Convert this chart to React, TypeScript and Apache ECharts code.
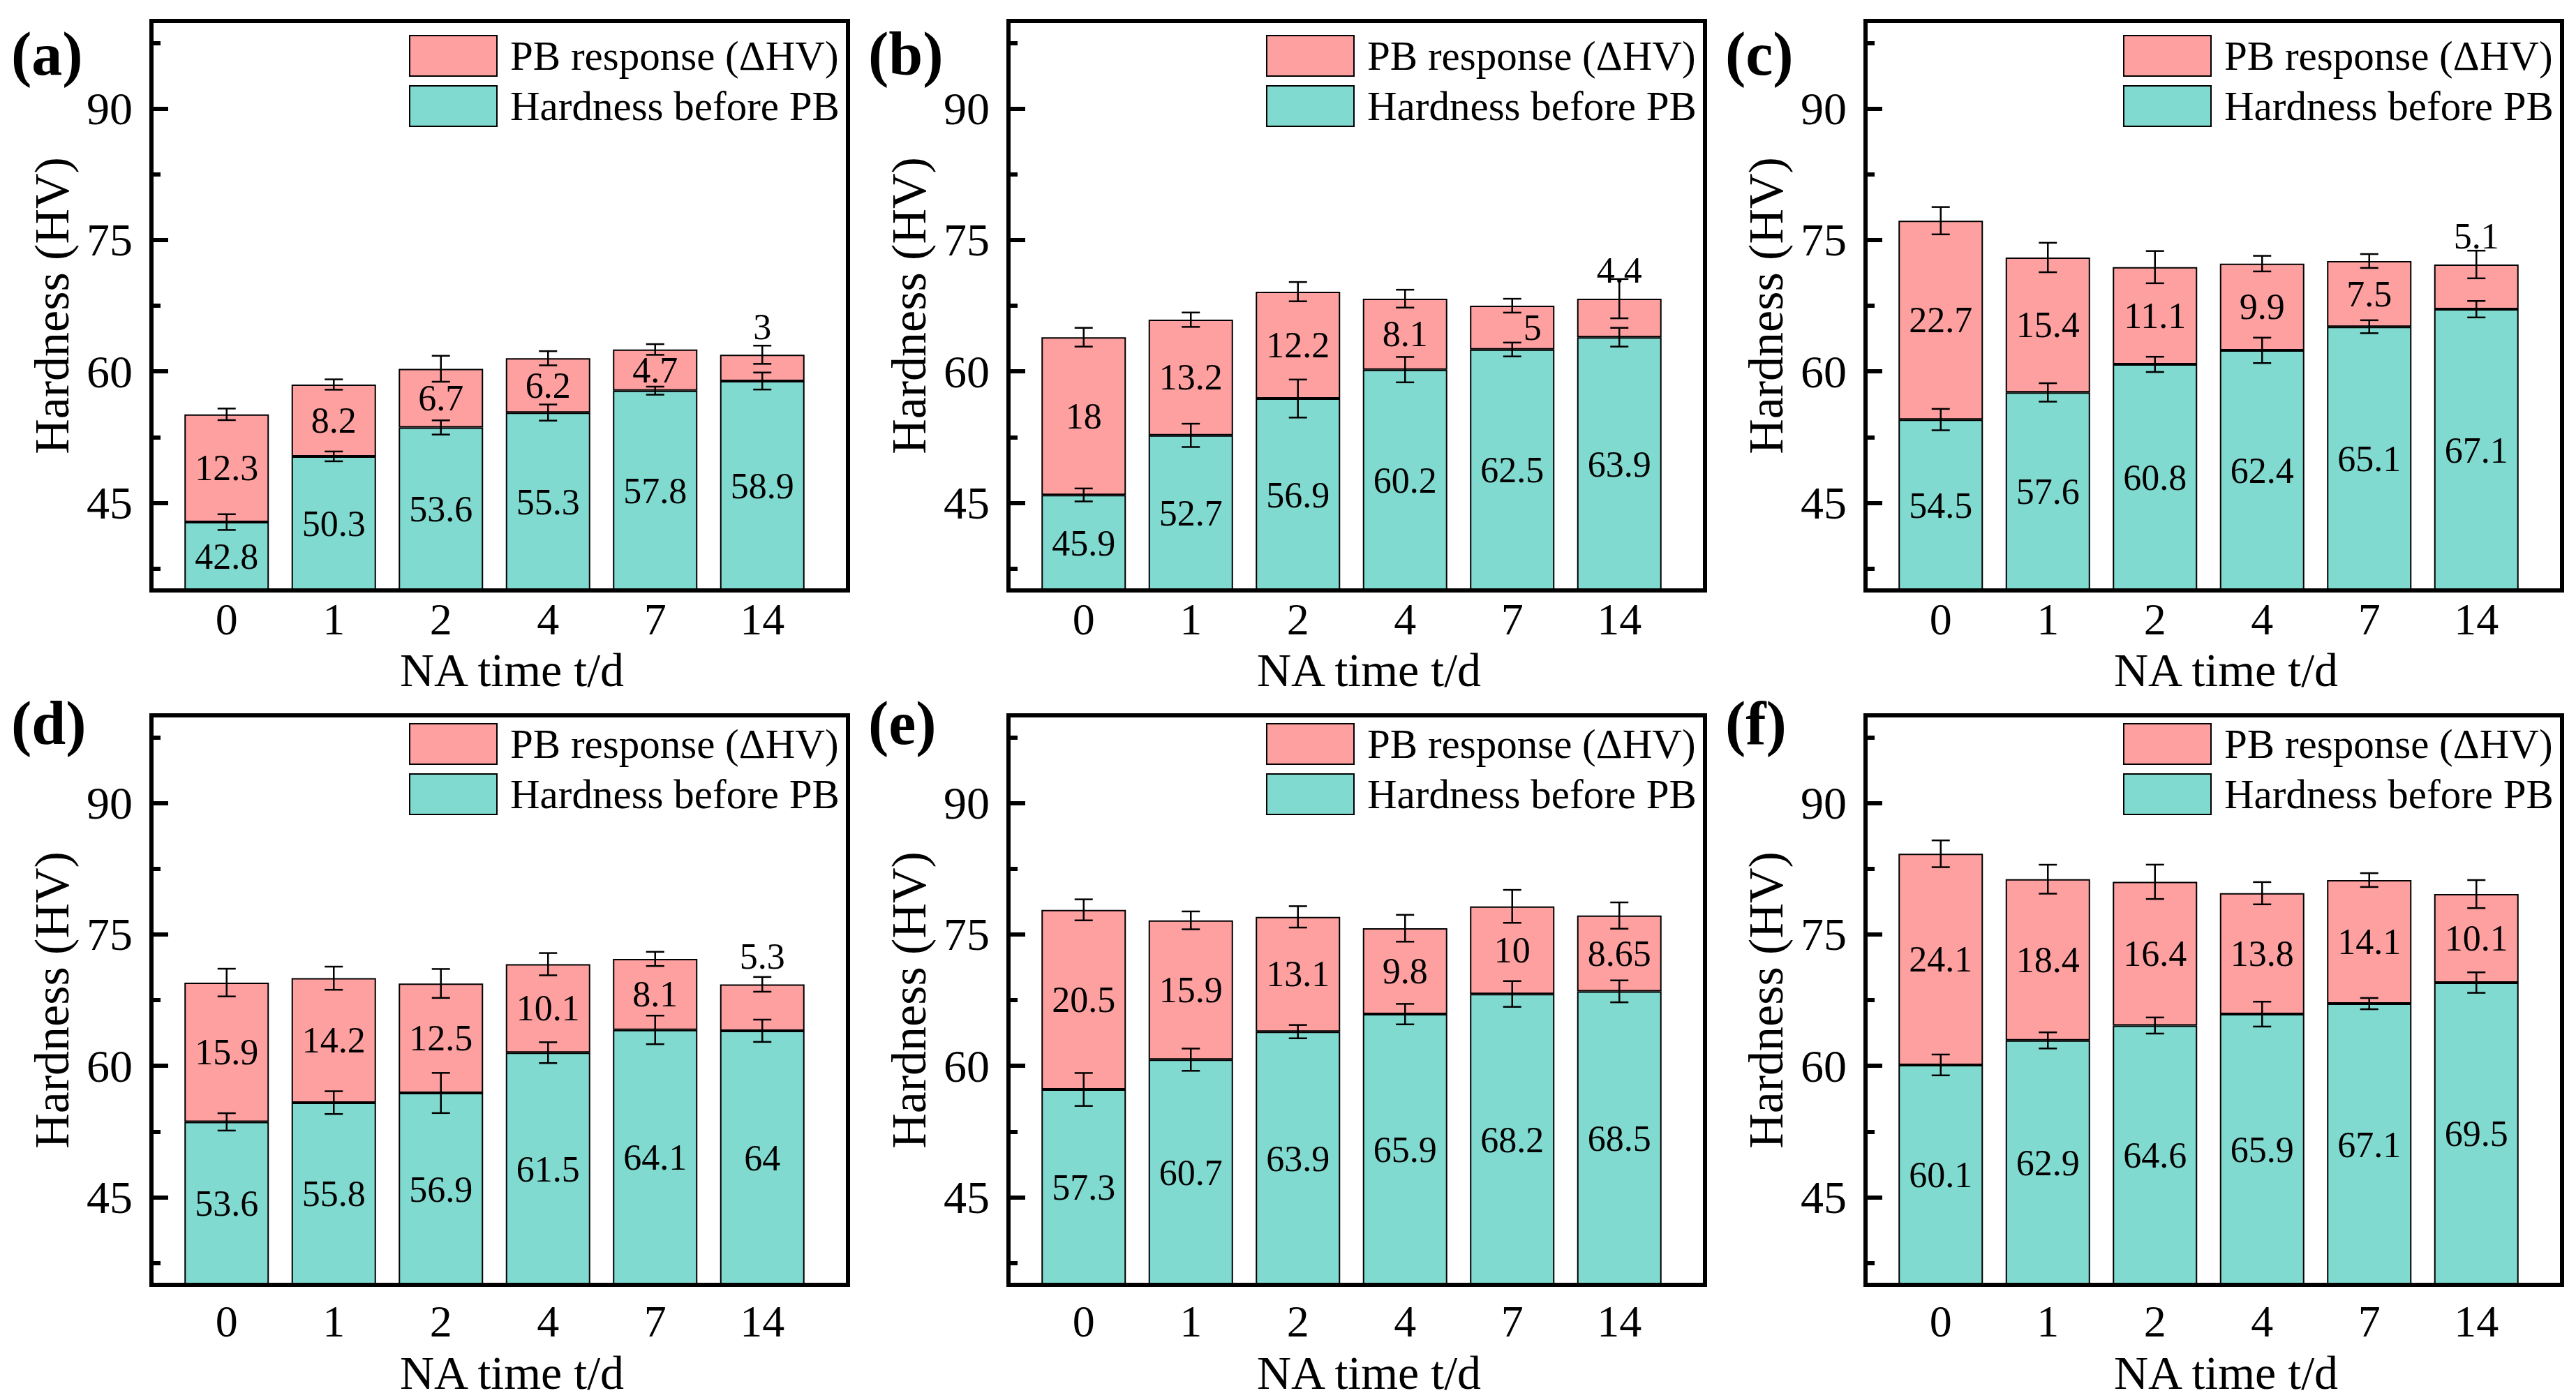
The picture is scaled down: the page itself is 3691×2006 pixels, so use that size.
import React, { useEffect, useRef } from 'react';
import * as echarts from 'echarts';

const CATEGORIES = ['0', '1', '2', '4', '7', '14'];
const PANEL_TAGS = ['(a)', '(b)', '(c)', '(d)', '(e)', '(f)'];
const NAME_RESP = 'PB response (ΔHV)';
const NAME_BEFORE = 'Hardness before PB';
const Y_MAJOR = [45, 60, 75, 90];
const Y_MINOR = [37.5, 52.5, 67.5, 82.5, 97.5];

const A_BEFORE = [42.8, 50.3, 53.6, 55.3, 57.8, 58.9];
const A_RESP = [12.3, 8.2, 6.7, 6.2, 4.7, 3];
const A_BEFORE_ERR = [0.9, 0.56, 0.81, 0.92, 0.46, 0.97];
const A_TOTAL_ERR = [0.66, 0.59, 1.48, 0.81, 0.61, 1.04];

const B_BEFORE = [45.9, 52.7, 56.9, 60.2, 62.5, 63.9];
const B_RESP = [18, 13.2, 12.2, 8.1, 5, 4.4];
const B_BEFORE_ERR = [0.74, 1.33, 2.17, 1.45, 0.79, 1.07];
const B_TOTAL_ERR = [1.07, 0.82, 1.1, 1.02, 0.79, 2.24];

const C_BEFORE = [54.5, 57.6, 60.8, 62.4, 65.1, 67.1];
const C_RESP = [22.7, 15.4, 11.1, 9.9, 7.5, 5.1];
const C_BEFORE_ERR = [1.22, 1.05, 0.87, 1.45, 0.74, 0.94];
const C_TOTAL_ERR = [1.56, 1.68, 1.84, 0.89, 0.79, 1.58];

const D_BEFORE = [53.6, 55.8, 56.9, 61.5, 64.1, 64];
const D_RESP = [15.9, 14.2, 12.5, 10.1, 8.1, 5.3];
const D_BEFORE_ERR = [0.99, 1.3, 2.29, 1.19, 1.63, 1.27];
const D_TOTAL_ERR = [1.58, 1.32, 1.65, 1.27, 0.81, 0.84];

const E_BEFORE = [57.3, 60.7, 63.9, 65.9, 68.2, 68.5];
const E_RESP = [20.5, 15.9, 13.1, 9.8, 10, 8.65];
const E_BEFORE_ERR = [1.88, 1.27, 0.76, 1.17, 1.47, 1.25];
const E_TOTAL_ERR = [1.2, 1.02, 1.22, 1.53, 1.88, 1.5];

const F_BEFORE = [60.1, 62.9, 64.6, 65.9, 67.1, 69.5];
const F_RESP = [24.1, 18.4, 16.4, 13.8, 14.1, 10.1];
const F_BEFORE_ERR = [1.19, 0.92, 0.92, 1.42, 0.64, 1.17];
const F_TOTAL_ERR = [1.53, 1.65, 1.96, 1.27, 0.79, 1.6];

// index of the response label drawn above the bar (-1: none)
const TOP_LABEL_INDEX = [5, 5, 5, 5, -1, -1];

const PANELS = [
  { before: A_BEFORE, resp: A_RESP, beforeErr: A_BEFORE_ERR, totalErr: A_TOTAL_ERR },
  { before: B_BEFORE, resp: B_RESP, beforeErr: B_BEFORE_ERR, totalErr: B_TOTAL_ERR },
  { before: C_BEFORE, resp: C_RESP, beforeErr: C_BEFORE_ERR, totalErr: C_TOTAL_ERR },
  { before: D_BEFORE, resp: D_RESP, beforeErr: D_BEFORE_ERR, totalErr: D_TOTAL_ERR },
  { before: E_BEFORE, resp: E_RESP, beforeErr: E_BEFORE_ERR, totalErr: E_TOTAL_ERR },
  { before: F_BEFORE, resp: F_RESP, beforeErr: F_BEFORE_ERR, totalErr: F_TOTAL_ERR },
];

const FONT = 'Liberation Serif';
const TEAL = '#80DAD0';
const PINK = '#FFA0A0';

const FRAME_X = [217, 1445, 2673];
const FRAME_Y = [30, 1025];
const FRAME_W = 998;
const FRAME_H = 816;
const INNER_PAD = 31;
const INNER_W = 921;
const X_LABEL_MARGIN = [13, 24];
const X_NAME_GAP = [84, 96];
const LEGEND_DY = [20, 11];
const TAG_Y = [77, 1036];

function buildOption() {
  const grid: any[] = [];
  const xAxis: any[] = [];
  const yAxis: any[] = [];
  const series: any[] = [];
  const legend: any[] = [];
  const graphic: any[] = [];

  PANELS.forEach((p, i) => {
    const col = i % 3;
    const row = Math.floor(i / 3);
    const fx = FRAME_X[col];
    const fy = FRAME_Y[row];
    grid.push({ left: fx + INNER_PAD, top: fy, width: INNER_W, height: FRAME_H });
    xAxis.push({
      type: 'category',
      gridIndex: i,
      data: CATEGORIES,
      boundaryGap: true,
      axisLine: { show: false },
      axisTick: { show: true, inside: true, alignWithLabel: true, length: 20, lineStyle: { width: 6, color: '#000' } },
      axisLabel: { fontSize: 64, lineHeight: 56, fontFamily: FONT, color: '#000', margin: X_LABEL_MARGIN[row] },
      splitLine: { show: false },
      name: 'NA time t/d',
      nameLocation: 'middle',
      nameGap: X_NAME_GAP[row],
      nameMoveOverlap: false,
      nameTextStyle: { fontSize: 68, lineHeight: 60, fontFamily: FONT, color: '#000', padding: [0, 0, 0, 50] },
    });
    yAxis.push({
      type: 'value',
      gridIndex: i,
      position: 'left',
      offset: INNER_PAD,
      min: 35,
      max: 100,
      axisLine: { show: false },
      axisTick: { show: true, inside: true, length: 24, customValues: Y_MAJOR, lineStyle: { width: 6, color: '#000' } },
      axisLabel: { fontSize: 66, fontFamily: FONT, color: '#000', margin: 27, customValues: Y_MAJOR },
      splitLine: { show: false },
      name: 'Hardness (HV)',
      nameLocation: 'middle',
      nameGap: 108,
      nameMoveOverlap: false,
      nameTextStyle: { fontSize: 70, fontFamily: FONT, color: '#000' },
    });
    yAxis.push({
      type: 'value',
      gridIndex: i,
      position: 'left',
      offset: INNER_PAD,
      min: 35,
      max: 100,
      axisLine: { show: false },
      axisTick: { show: true, inside: true, length: 13, customValues: Y_MINOR, lineStyle: { width: 6, color: '#000' } },
      axisLabel: { show: false },
      splitLine: { show: false },
    });

    const labelBase = { show: true, position: 'inside', fontSize: 52, fontFamily: FONT, color: '#000', textBorderWidth: 0 };
    series.push({
      type: 'bar',
      name: NAME_BEFORE,
      stack: 'p' + i,
      xAxisIndex: i,
      yAxisIndex: 2 * i,
      barWidth: 121,
      clip: true,
      itemStyle: { color: TEAL, borderColor: '#000', borderWidth: 2 },
      label: labelBase,
      data: p.before,
    });
    series.push({
      type: 'bar',
      name: NAME_RESP,
      stack: 'p' + i,
      xAxisIndex: i,
      yAxisIndex: 2 * i,
      barWidth: 121,
      clip: true,
      itemStyle: { color: PINK, borderColor: '#000', borderWidth: 2 },
      label: labelBase,
      data: p.resp.map((v, k) =>
        k === TOP_LABEL_INDEX[i]
          ? { value: v, label: { position: 'top', distance: 14 } }
          : i === 1 && k === 4
          ? { value: v, label: { offset: [29, 0] } }
          : v
      ),
    });
    const errData: number[][] = [];
    p.before.forEach((v, k) => {
      errData.push([k, v, p.beforeErr[k]]);
      errData.push([k, v + p.resp[k], p.totalErr[k]]);
    });
    series.push({
      type: 'custom',
      xAxisIndex: i,
      yAxisIndex: 2 * i,
      z: 5,
      encode: { x: 0, y: 1 },
      data: errData,
      renderItem: (params: any, api: any) => {
        const x = api.value(0);
        const y = api.value(1);
        const e = api.value(2);
        const top = api.coord([x, y + e]);
        const bot = api.coord([x, y - e]);
        const cx = top[0];
        const style = { stroke: '#000', lineWidth: 2.5 };
        return {
          type: 'group',
          children: [
            { type: 'line', shape: { x1: cx, y1: top[1], x2: cx, y2: bot[1] }, style },
            { type: 'line', shape: { x1: cx - 13, y1: top[1], x2: cx + 13, y2: top[1] }, style },
            { type: 'line', shape: { x1: cx - 13, y1: bot[1], x2: cx + 13, y2: bot[1] }, style },
          ],
        };
      },
    });

    legend.push({
      data: [NAME_RESP, NAME_BEFORE],
      orient: 'vertical',
      left: fx + 369,
      top: fy + LEGEND_DY[row],
      padding: 0,
      itemWidth: 125,
      itemHeight: 58,
      itemGap: 12,
      icon: 'rect',
      selectedMode: false,
      textStyle: { fontSize: 59, fontFamily: FONT, color: '#000', padding: [0, 0, 0, 14] },
    });

    graphic.push({
      type: 'rect',
      silent: true,
      z: 100,
      shape: { x: fx, y: fy, width: FRAME_W, height: FRAME_H },
      style: { fill: 'none', stroke: '#000', lineWidth: 6 },
    });
    graphic.push({
      type: 'text',
      silent: true,
      z: 100,
      x: fx - 201,
      y: TAG_Y[row],
      style: {
        text: PANEL_TAGS[i],
        fontSize: 88,
        fontWeight: 'bold',
        fontFamily: FONT,
        fill: '#000',
        align: 'left',
        verticalAlign: 'middle',
      },
    });
  });

  return {
    animation: false,
    backgroundColor: '#ffffff',
    textStyle: { fontFamily: FONT },
    grid,
    xAxis,
    yAxis,
    series,
    legend,
    graphic,
  };
}

export default function App() {
  const ref = useRef<HTMLDivElement>(null);
  useEffect(() => {
    document.body.style.margin = '0';
    document.body.style.overflow = 'hidden';
    if (!ref.current) return;
    const chart = echarts.init(ref.current, undefined, { renderer: 'svg' });
    chart.setOption(buildOption() as any);
    return () => chart.dispose();
  }, []);
  return <div ref={ref} style={{ width: 3691, height: 2006 }} />;
}
